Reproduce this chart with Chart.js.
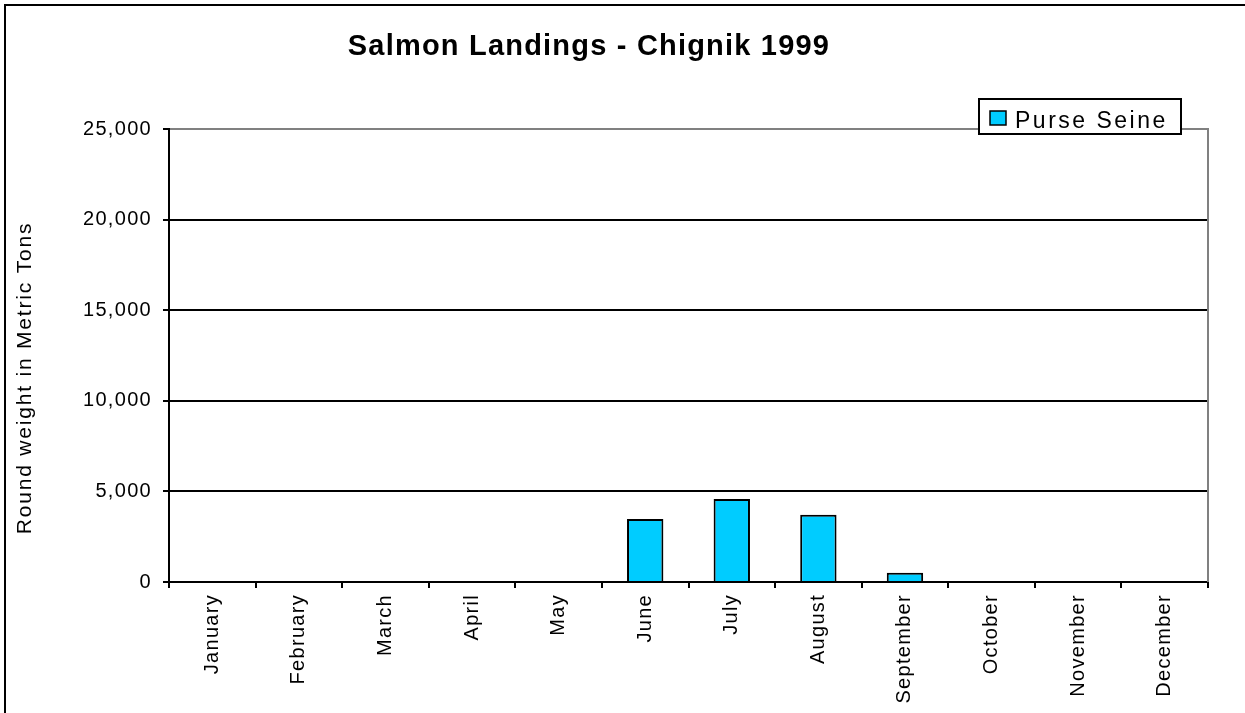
<!DOCTYPE html>
<html>
<head>
<meta charset="utf-8">
<script src="https://cdn.jsdelivr.net/npm/chart.js@4/dist/chart.umd.min.js"></script>
<style>
  html, body { margin: 0; padding: 0; background: #fff; }
  #wrap { position: relative; width: 1245px; height: 713px; overflow: hidden; }
  #frame { position: absolute; left: 4px; top: 4px; width: 1300px; height: 800px; border: 2px solid #000; box-sizing: border-box; }
  canvas { position: absolute; left: 0; top: 0; }
</style>
</head>
<body>
<div id="wrap">
  <div id="frame"></div>
  <canvas id="c" width="1245" height="713"></canvas>
</div>
<script>
const chartTitle = 'Salmon Landings - Chignik 1999';
const yAxisTitle = 'Round weight in Metric Tons';
const seriesName = 'Purse Seine';
const months = ['January','February','March','April','May','June','July','August','September','October','November','December'];
const purseSeine = [0, 0, 0, 0, 0, 3480, 4580, 3710, 510, 0, 0, 0];
const yTicks = [0, 5000, 10000, 15000, 20000, 25000];

const FONT = "'Liberation Sans', Arial, sans-serif";
const BAR_COLOR = '#00CCFF';

const decorPlugin = {
  id: 'decor',
  beforeDraw(chart) {
    chart.ctx.letterSpacing = '1.3px';
  },
  afterDatasetsDraw(chart) {
    const ctx = chart.ctx, a = chart.chartArea;
    ctx.save();
    ctx.strokeStyle = '#808080';
    ctx.lineWidth = 2;
    ctx.beginPath();
    ctx.moveTo(Math.round(a.right), Math.round(a.top) - 1);
    ctx.lineTo(Math.round(a.right), Math.round(a.bottom));
    ctx.stroke();
    ctx.restore();
  },
  afterDraw(chart) {
    const ctx = chart.ctx;
    ctx.save();
    // Title
    ctx.fillStyle = '#000';
    ctx.letterSpacing = '1.2px';
    ctx.font = 'bold 29px ' + FONT;
    ctx.textAlign = 'center';
    ctx.textBaseline = 'middle';
    ctx.fillText(chartTitle, 589, 47);
    // Y axis title
    ctx.save();
    ctx.translate(25, 378);
    ctx.rotate(-Math.PI / 2);
    ctx.letterSpacing = '1.8px';
    ctx.font = '21px ' + FONT;
    ctx.fillText(yAxisTitle, 0, 0);
    ctx.restore();
    // Legend
    ctx.fillStyle = '#fff';
    ctx.fillRect(979, 99, 202, 35);
    ctx.strokeStyle = '#000';
    ctx.lineWidth = 2;
    ctx.strokeRect(979, 99, 202, 35);
    ctx.fillStyle = BAR_COLOR;
    ctx.fillRect(990, 111, 16, 14);
    ctx.lineWidth = 1.5;
    ctx.strokeRect(990, 111, 16, 14);
    ctx.fillStyle = '#000';
    ctx.letterSpacing = '2.5px';
    ctx.font = '23px ' + FONT;
    ctx.textAlign = 'left';
    ctx.textBaseline = 'alphabetic';
    ctx.fillText(chart.data.datasets[0].label, 1015, 128);
    ctx.restore();
  }
};

new Chart(document.getElementById('c'), {
  type: 'bar',
  data: {
    labels: months,
    datasets: [{
      label: seriesName,
      data: purseSeine,
      backgroundColor: BAR_COLOR,
      borderColor: '#000',
      borderWidth: 2,
      barPercentage: 0.42,
      categoryPercentage: 1.0
    }]
  },
  options: {
    responsive: false,
    animation: false,
    devicePixelRatio: 1,
    layout: { padding: { top: 129, right: 37, left: 0, bottom: 0 } },
    plugins: {
      legend: { display: false },
      title: { display: false },
      tooltip: { enabled: false }
    },
    scales: {
      x: {
        offset: true,
        grid: {
          display: true,
          offset: true,
          drawOnChartArea: false,
          drawTicks: true,
          tickLength: 6,
          tickColor: '#000',
          color: '#000',
          lineWidth: 2
        },
        border: { display: true, color: '#000', width: 2 },
        ticks: {
          minRotation: 90,
          maxRotation: 90,
          autoSkip: false,
          padding: 6,
          color: '#000',
          font: { family: FONT, size: 20 }
        },
        afterFit(scale) { scale.height = 131; }
      },
      y: {
        min: 0,
        max: 25000,
        afterBuildTicks(scale) { scale.ticks = yTicks.map(v => ({ value: v })); },
        grid: {
          color: (c) => (c.tick && c.tick.value === 25000) ? '#808080' : '#000',
          tickColor: '#000',
          lineWidth: 2,
          drawTicks: true,
          tickLength: 6
        },
        border: { display: true, color: '#000', width: 2 },
        ticks: {
          padding: 11,
          color: '#000',
          font: { family: FONT, size: 20 },
          callback: (v) => Number(v).toLocaleString('en-US')
        },
        afterFit(scale) { scale.width = 169; }
      }
    }
  },
  plugins: [decorPlugin]
});
</script>
</body>
</html>
